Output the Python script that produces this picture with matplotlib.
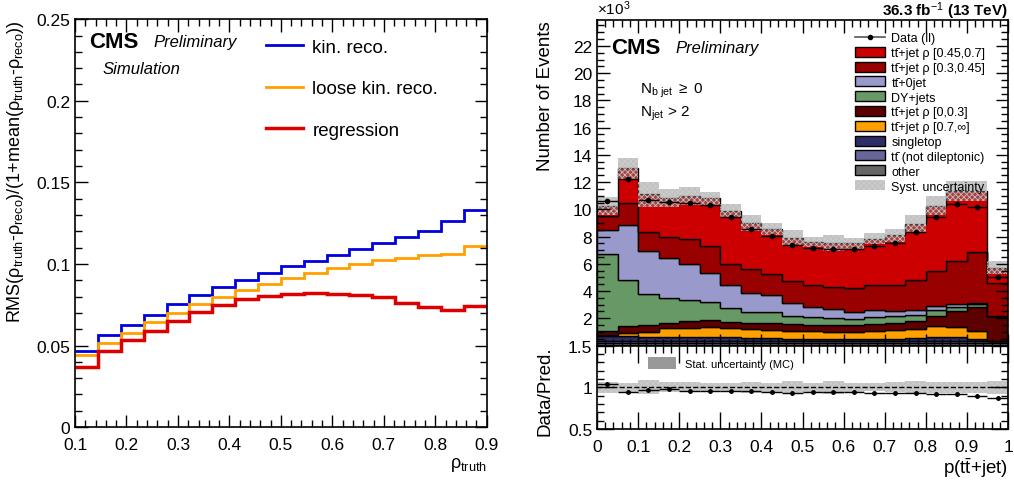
import matplotlib
matplotlib.use("Agg")
import matplotlib.pyplot as plt
from matplotlib.patches import Patch, Rectangle
from matplotlib.lines import Line2D
from matplotlib.ticker import MultipleLocator
import numpy as np

plt.rcParams['font.family'] = ['Liberation Sans', 'DejaVu Sans']
plt.rcParams['mathtext.fontset'] = 'custom'
plt.rcParams['mathtext.rm'] = 'Liberation Sans'
plt.rcParams['mathtext.it'] = 'Liberation Sans:italic'
plt.rcParams['mathtext.bf'] = 'Liberation Sans:bold'
plt.rcParams['hatch.linewidth'] = 0.6

# ---- left panel: resolution of rho vs rho_truth (18 bins from 0.1 to 0.9)
rho_lo, rho_hi, n_rho = 0.1, 0.9, 18
kin_reco = [0.0469, 0.0565, 0.0627, 0.0688, 0.0753, 0.0810, 0.0859, 0.0904, 0.0945,
            0.0986, 0.1020, 0.1055, 0.1092, 0.1128, 0.1167, 0.1202, 0.1261, 0.1330]
loose_kin_reco = [0.0439, 0.0516, 0.0577, 0.0643, 0.0702, 0.0753, 0.0800, 0.0841, 0.0878,
                  0.0916, 0.0947, 0.0977, 0.1002, 0.1024, 0.1038, 0.1053, 0.1063, 0.1110]
regression = [0.0367, 0.0467, 0.0532, 0.0592, 0.0651, 0.0704, 0.0747, 0.0783, 0.0802,
              0.0816, 0.0822, 0.0816, 0.0810, 0.0796, 0.0763, 0.0739, 0.0718, 0.0745]

# ---- right panel: p(ttbar+jet), 20 bins from 0 to 1, values in 1e3 events
# cumulative tops of the stack, bottom layer first
cum_other = [0.15] * 20
cum_notdilep = [0.3] * 20
cum_singletop = [0.7, 0.7, 0.65, 0.65, 0.65, 0.65, 0.6, 0.55, 0.55, 0.5,
                 0.5, 0.5, 0.5, 0.5, 0.5, 0.55, 0.6, 0.6, 0.5, 0.35]
cum_rho07 = [0.75, 0.89, 1.01, 1.26, 1.31, 1.33, 1.26, 1.21, 1.16, 1.09,
             1.04, 0.96, 1.01, 1.09, 1.16, 1.21, 1.40, 1.38, 1.09, 0.36]
cum_rho0 = [1.10, 1.45, 1.49, 1.66, 1.82, 1.90, 1.74, 1.66, 1.65, 1.55,
            1.53, 1.50, 1.50, 1.57, 1.65, 1.80, 2.20, 2.55, 2.80, 2.15]
cum_dy = [6.75, 4.82, 3.75, 3.46, 3.36, 3.16, 2.72, 2.48, 2.43, 2.14,
          2.06, 1.99, 1.94, 2.06, 2.19, 2.25, 2.62, 2.85, 3.04, 2.17]
cum_tt0jet = [8.45, 8.83, 6.95, 6.46, 6.02, 5.31, 4.45, 3.85, 3.69, 3.09,
              2.84, 2.67, 2.48, 2.62, 2.55, 2.60, 2.92, 3.05, 3.09, 2.20]
cum_rho03 = [9.50, 10.49, 8.37, 7.97, 7.80, 7.31, 5.97, 5.60, 5.26, 4.73,
             4.43, 4.31, 4.19, 4.43, 4.45, 4.78, 5.50, 6.18, 6.90, 4.57]
cum_rho045 = [10.24, 13.0, 11.1, 10.85, 10.98, 10.8, 9.88, 8.97, 8.58, 7.90,
              7.60, 7.51, 7.51, 7.85, 8.10, 8.95, 10.28, 11.34, 11.32, 5.72]
syst_unc = [0.69, 0.74, 0.93, 0.66, 0.66, 0.49, 0.53, 0.59, 0.44, 0.58,
            0.40, 0.58, 0.42, 0.39, 0.48, 0.66, 0.70, 0.73, 0.73, 0.45]
data_ll = [10.61, 12.22, 10.70, 10.56, 10.44, 10.32, 9.44, 8.53, 8.05, 7.38,
           7.14, 7.05, 7.07, 7.31, 7.56, 8.34, 9.46, 10.37, 10.17, 5.00]

TT = "tt\u0304"  # t t-bar with a combining macron
layers = [  # (label, cumulative top, colour)
    ("other", cum_other, "#666666"),
    (TT + " (not dileptonic)", cum_notdilep, "#666699"),
    ("singletop", cum_singletop, "#2e2e66"),
    (TT + "+jet ρ [0.7,∞]", cum_rho07, "#ffa000"),
    (TT + "+jet ρ [0,0.3]", cum_rho0, "#5c0000"),
    ("DY+jets", cum_dy, "#669966"),
    (TT + "+0jet", cum_tt0jet, "#9999cc"),
    (TT + "+jet ρ [0.3,0.45]", cum_rho03, "#990000"),
    (TT + "+jet ρ [0.45,0.7]", cum_rho045, "#cc0000"),
]

band_face = (0.55, 0.55, 0.55, 0.45)
band_hatch = (0.75, 0.75, 0.75)

fig = plt.figure(figsize=(10.14, 4.81), dpi=100)


def root_ticks(ax, xmin, ymin):
    ax.xaxis.set_minor_locator(MultipleLocator(xmin))
    ax.yaxis.set_minor_locator(MultipleLocator(ymin))
    ax.tick_params(which='both', direction='in', top=True, right=True, labelsize=12.5)
    ax.tick_params(which='major', length=9, width=1)
    ax.tick_params(which='minor', length=5, width=1)
    ax.tick_params(axis='x', pad=7)
    for s in ax.spines.values():
        s.set_linewidth(1.2)


# ================= left =================
axl = fig.add_axes([0.074, 0.110, 0.406, 0.848])
edges_l = np.linspace(rho_lo, rho_hi, n_rho + 1)
axl.stairs(kin_reco, edges_l, color="#0000dd", lw=2, baseline=None)
axl.stairs(loose_kin_reco, edges_l, color="#ff9f00", lw=2, baseline=None)
axl.stairs(regression, edges_l, color="#dd0000", lw=2.5, baseline=None)
axl.set_xlim(0.1, 0.9)
axl.set_ylim(0, 0.25)
axl.set_yticks([0, 0.05, 0.1, 0.15, 0.2, 0.25], ["0", "0.05", "0.1", "0.15", "0.2", "0.25"])
axl.set_xticks(np.arange(0.1, 0.91, 0.1), ["0.1", "0.2", "0.3", "0.4", "0.5", "0.6", "0.7", "0.8", "0.9"])
root_ticks(axl, 0.02, 0.01)
axl.set_xlabel(r"$\mathrm{ρ_{truth}}$", loc='right', fontsize=13, labelpad=2)
axl.set_ylabel(r"RMS($\mathrm{ρ_{truth}}$-$\mathrm{ρ_{reco}}$)/(1+mean($\mathrm{ρ_{truth}}$-$\mathrm{ρ_{reco}}$))",
               loc='top', fontsize=13)
axl.yaxis.set_label_coords(-0.12, 1.0)
axl.text(0.035, 0.945, "CMS", transform=axl.transAxes, fontsize=16, fontweight='bold', va='center')
axl.text(0.19, 0.945, "Preliminary", transform=axl.transAxes, fontsize=12, style='italic', va='center')
axl.text(0.068, 0.880, "Simulation", transform=axl.transAxes, fontsize=12, style='italic', va='center')
hl = [Line2D([], [], color="#0000dd", lw=2), Line2D([], [], color="#ff9f00", lw=2),
      Line2D([], [], color="#dd0000", lw=2.5)]
axl.legend(hl, ["kin. reco.", "loose kin. reco.", "regression"], loc='upper left',
           bbox_to_anchor=(0.44, 0.975), frameon=False, fontsize=13.5, handlelength=2.0,
           handletextpad=0.5, labelspacing=1.3, borderpad=0)

# ================= right, top =================
axr = fig.add_axes([0.5888, 0.2796, 0.4053, 0.6767])
edges_r = np.linspace(0, 1, 21)
centers = 0.5 * (edges_r[:-1] + edges_r[1:])
prev = np.zeros(20)
for label, cum, col in layers:
    cum = np.array(cum)
    axr.stairs(cum, edges_r, baseline=prev, fill=True, color=col, lw=0)
    axr.stairs(cum, edges_r, baseline=prev, color='black', lw=1)
    prev = cum
total = np.array(cum_rho045)
syst = np.array(syst_unc)
axr.stairs(total + syst, edges_r, baseline=total - syst, fill=True,
           facecolor=band_face, edgecolor=band_hatch, hatch='xxxxxx', lw=0)
axr.errorbar(centers, data_ll, xerr=0.025, yerr=np.sqrt(np.array(data_ll)) * 0.03,
             fmt='o', ms=3, color='black', lw=1, capsize=0)
axr.set_xlim(0, 1)
axr.set_ylim(0, 23.9)
axr.set_yticks(np.arange(2, 23, 2))
axr.xaxis.set_major_locator(MultipleLocator(0.1))
root_ticks(axr, 0.02, 0.5)
axr.tick_params(labelbottom=False)
axr.set_ylabel("Number of Events", loc='top', fontsize=13.5)
axr.text(0.0, 1.01, r"$\times$10$^{3}$", transform=axr.transAxes, fontsize=11, va='bottom', ha='left')
axr.text(1.0, 1.014, r"36.3 fb$^{-1}$ (13 TeV)", transform=axr.transAxes, fontsize=11,
         fontweight='bold', va='baseline', ha='right')
axr.text(0.035, 0.915, "CMS", transform=axr.transAxes, fontsize=16, fontweight='bold', va='center')
axr.text(0.19, 0.915, "Preliminary", transform=axr.transAxes, fontsize=12, style='italic', va='center')
axr.text(0.105, 0.785, r"N$_{\mathrm{b\ jet}}$ $\geq$ 0", transform=axr.transAxes, fontsize=11, va='center')
axr.text(0.105, 0.715, r"N$_{\mathrm{jet}}$ > 2", transform=axr.transAxes, fontsize=11, va='center')

# legend drawn row by row so every row has the same height (ROOT style)
leg_x0, leg_x1, leg_tx = 0.628, 0.701, 0.716
leg_y0, leg_dy, box_h = 0.948, 0.0455, 0.031
rows = [("Data (ll)", None)] + [(lab, col) for lab, cum, col in reversed(layers)] + [("Syst. uncertainty", "syst")]
for i, (lab, col) in enumerate(rows):
    yc = leg_y0 - i * leg_dy
    if col is None:
        axr.plot([leg_x0, leg_x1], [yc, yc], color='#555555', lw=1.2, transform=axr.transAxes, clip_on=False)
        axr.plot([(leg_x0 + leg_x1) / 2], [yc], 'o', ms=3, color='black', transform=axr.transAxes, clip_on=False)
    elif col == "syst":
        axr.add_patch(Rectangle((leg_x0, yc - box_h / 2), leg_x1 - leg_x0, box_h, transform=axr.transAxes,
                                facecolor=band_face, edgecolor=band_hatch, hatch='xxxxxx', lw=0, clip_on=False))
    else:
        axr.add_patch(Rectangle((leg_x0, yc - box_h / 2), leg_x1 - leg_x0, box_h, transform=axr.transAxes,
                                facecolor=col, edgecolor='black', lw=1, clip_on=False))
    axr.text(leg_tx, yc, lab, transform=axr.transAxes, fontsize=9, va='center_baseline', ha='left')

# ================= right, ratio =================
axq = fig.add_axes([0.5888, 0.106, 0.4053, 0.1736], sharex=axr)
ratio = np.array(data_ll) / total
axq.stairs(1 + syst / total, edges_r, baseline=1 - syst / total, fill=True,
           facecolor=band_face, edgecolor=band_hatch, hatch='xxxxxx', lw=0)
axq.axhline(1, color='black', ls='--', lw=1)
axq.errorbar(centers, ratio, xerr=0.025, fmt='o', ms=2.5, color='black', lw=1, capsize=0)
axq.set_ylim(0.5, 1.5)
axq.set_yticks([0.5, 1, 1.5], ["0.5", "1", "1.5"])
axq.set_xticks(np.arange(0, 1.01, 0.1), ["0", "0.1", "0.2", "0.3", "0.4", "0.5", "0.6", "0.7", "0.8", "0.9", "1"])
root_ticks(axq, 0.02, 0.1)
axq.tick_params(which='major', length=12)
axq.set_ylabel("Data/Pred.", loc='top', fontsize=13.5)
axq.set_xlabel(r"p($\mathrm{t\bar{t}}$+jet)", loc='right', fontsize=13.5, labelpad=1)
axq.legend([Patch(facecolor='#999999', lw=0)], ["Stat. uncertainty (MC)"], loc='upper left',
           bbox_to_anchor=(0.1, 0.98), frameon=False, fontsize=8, handlelength=2.5, handleheight=1.2)

# line up the two y labels of the right panel
axr.yaxis.set_label_coords(-0.105, 1.0)
axq.yaxis.set_label_coords(-0.105, 1.0)

fig.savefig("out.png", dpi=100)
